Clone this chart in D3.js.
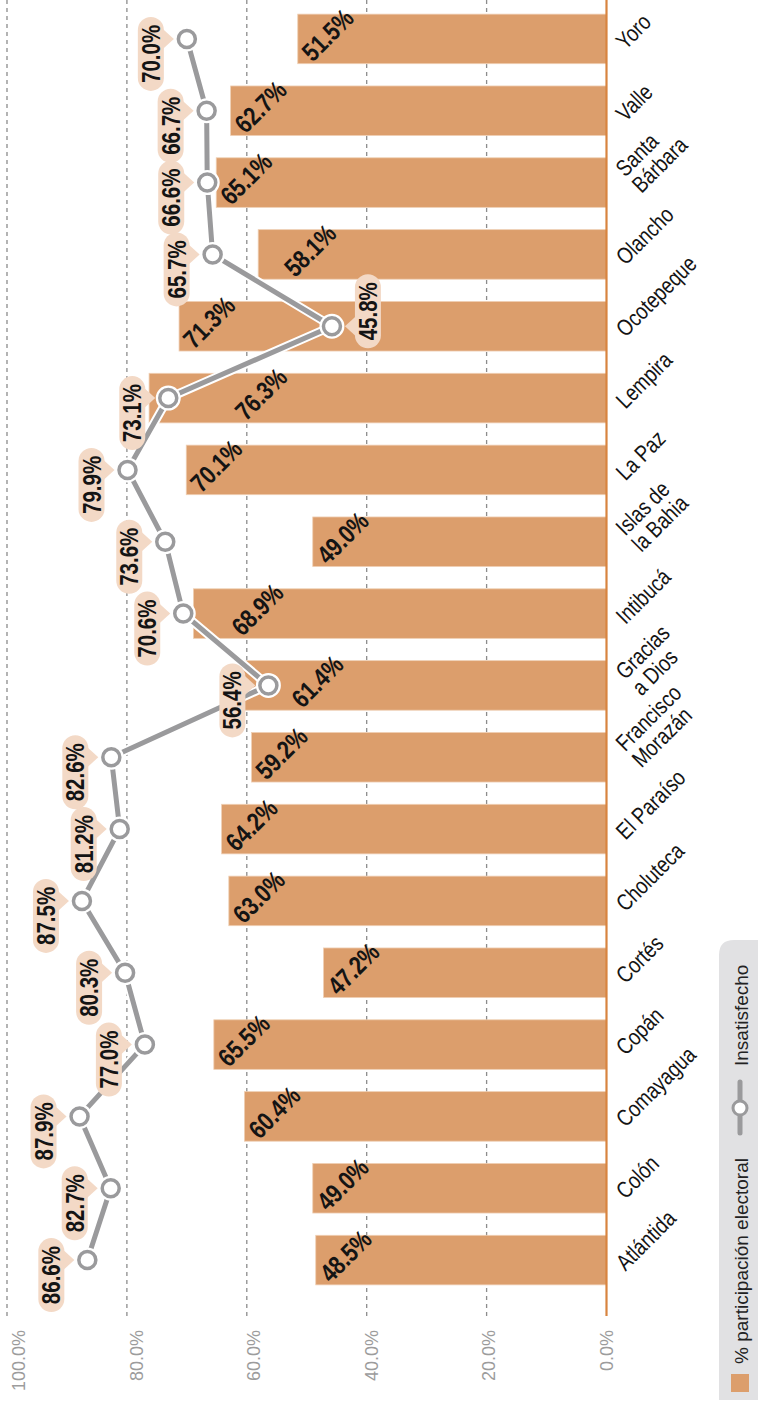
<!DOCTYPE html>
<html>
<head>
<meta charset="utf-8">
<script src="https://cdn.jsdelivr.net/npm/d3@7"></script>
<style>
  html, body { margin: 0; padding: 0; background: #fff; }
  svg { display: block; }
</style>
</head>
<body>
<svg id="chart" width="758" height="1408"></svg>
<script>
// Departamentos de Honduras
const categories = [
  "Atlántida", "Colón", "Comayagua", "Copán", "Cortés", "Choluteca",
  "El Paraíso", "Francisco Morazán", "Gracias a Dios", "Intibucá",
  "Islas de la Bahia", "La Paz", "Lempira", "Ocotepeque", "Olancho",
  "Santa Bárbara", "Valle", "Yoro"
];
// % participación electoral (barras)
const participacion = [
  48.5, 49.0, 60.4, 65.5, 47.2, 63.0, 64.2, 59.2, 61.4,
  68.9, 49.0, 70.1, 76.3, 71.3, 58.1, 65.1, 62.7, 51.5
];
// % insatisfecho (línea)
const insatisfecho = [
  86.6, 82.7, 87.9, 77.0, 80.3, 87.5, 81.2, 82.6, 56.4,
  70.6, 73.6, 79.9, 73.1, 45.8, 65.7, 66.6, 66.7, 70.0
];
const tickValues = [0, 20, 40, 60, 80, 100];
const tickLabels = ["0.0%", "20.0%", "40.0%", "60.0%", "80.0%", "100.0%"];
const legendLabels = ["% participación electoral", "Insatisfecho"];

const FONT = "'Liberation Sans', Arial, Helvetica, sans-serif";
const COND = "scale(0.82,1)";   // condensed look
const C = {
  bar: "#DC9E6C",
  base: "#D8843F",
  pill: "#F3D9C6",
  line: "#9A9A9C",
  grid: "#8C8C8C",
  tick: "#9C9C9C",
  legendBg: "#E1E1E3",
  text: "#141414"
};
const fmt = v => v.toFixed(1) + "%";

const svg = d3.select("#chart");

// value axis runs right-to-left, categories top (Yoro) to bottom (Atlántida)
const x = d3.scaleLinear().domain([0, 100]).range([606.5, 7]);
const tickX = d3.scaleLinear().domain([0, 100]).range([613, 25]);
const y = d3.scaleBand()
  .domain(categories.slice().reverse())
  .range([3, 1296])
  .paddingInner(0.31)
  .paddingOuter(0.155);
const bw = y.bandwidth();
const yc = c => y(c) + bw / 2;

const rows = categories.map((c, i) => ({ c, p: participacion[i], q: insatisfecho[i] }));

// gridlines
const gridG = svg.append("g");
gridG.selectAll("line")
  .data(tickValues.filter(v => v !== 0))
  .join("line")
  .attr("x1", d => x(d)).attr("x2", d => x(d))
  .attr("y1", 0).attr("y2", 1316)
  .attr("stroke", C.grid)
  .attr("stroke-width", 1.3)
  .attr("stroke-dasharray", "4,4");

// tick labels
svg.append("g").selectAll("text")
  .data(tickValues)
  .join("text")
  .attr("transform", d => `translate(${tickX(d)},1330) rotate(-90)`)
  .attr("text-anchor", "end")
  .attr("font-family", FONT)
  .attr("font-size", 18)
  .attr("fill", C.tick)
  .text((d, i) => tickLabels[i]);

// bars
svg.append("g").selectAll("rect")
  .data(rows)
  .join("rect")
  .attr("x", d => x(d.p))
  .attr("y", d => y(d.c))
  .attr("width", d => x(0) - x(d.p))
  .attr("height", bw)
  .attr("fill", C.bar)
  .attr("stroke", "#EFCFB4")
  .attr("stroke-width", 0.8);

// baseline
svg.append("line")
  .attr("x1", x(0)).attr("x2", x(0))
  .attr("y1", 0).attr("y2", 1316)
  .attr("stroke", C.base)
  .attr("stroke-width", 2.2);

// bar value labels; a few are pushed inward to clear the line
const labelNudge = { "Olancho": 22, "Lempira": 82, "Intibucá": 34, "Gracias a Dios": 49 };
svg.append("g").selectAll("text")
  .data(rows)
  .join("text")
  .attr("transform", d => `translate(${x(d.p) + 15 + (labelNudge[d.c] || 0)},${y(d.c) + bw - 1}) rotate(-45) ${COND}`)
  .attr("font-family", FONT)
  .attr("font-weight", "bold")
  .attr("font-size", 26)
  .attr("fill", C.text)
  .text(d => fmt(d.p));

// category labels, wrapped on the most balanced word break
function wrap(name) {
  const w = name.split(" ");
  if (name.length <= 10 || w.length < 2) return [name];
  let best = null;
  for (let k = 1; k < w.length; k++) {
    const a = w.slice(0, k).join(" "), b = w.slice(k).join(" ");
    const m = Math.max(a.length, b.length);
    if (!best || m < best.m) best = { m, lines: [a, b] };
  }
  return best.lines;
}
const catG = svg.append("g").selectAll("g")
  .data(rows)
  .join("g")
  .attr("transform", d => `translate(616,${yc(d.c)}) rotate(-45)`);
catG.each(function (d) {
  const lines = wrap(d.c);
  const n = lines.length;
  d3.select(this).selectAll("text")
    .data(lines)
    .join("text")
    .attr("transform", (t, i) => {
      const a = n > 1 ? 10 : -1.5;
      const dd = n > 1 ? 3 + i * 23 : 15;
      return `translate(${a},${dd}) ${COND}`;
    })
    .attr("font-family", FONT)
    .attr("font-size", 23)
    .attr("fill", C.text)
    .text(t => t);
});

// insatisfecho line
const line = d3.line().x(d => x(d.q)).y(d => yc(d.c));
svg.append("path").datum(rows)
  .attr("d", line).attr("fill", "none")
  .attr("stroke", "#fff").attr("stroke-width", 9)
  .attr("stroke-linejoin", "round");
svg.append("path").datum(rows)
  .attr("d", line).attr("fill", "none")
  .attr("stroke", C.line).attr("stroke-width", 5)
  .attr("stroke-linejoin", "round");

const ptG = svg.append("g");
ptG.selectAll("circle.halo")
  .data(rows).join("circle").attr("class", "halo")
  .attr("cx", d => x(d.q)).attr("cy", d => yc(d.c))
  .attr("r", 8.5).attr("fill", "#fff")
  .attr("stroke", "#fff").attr("stroke-width", 8);
ptG.selectAll("circle.pt")
  .data(rows).join("circle").attr("class", "pt")
  .attr("cx", d => x(d.q)).attr("cy", d => yc(d.c))
  .attr("r", 8.5).attr("fill", "#fff")
  .attr("stroke", C.line).attr("stroke-width", 3.5);

// callout pills for the line values
const rightSide = new Set(["Ocotepeque"]);
const PW = 26, PH = 74;
const pillG = svg.append("g").selectAll("g")
  .data(rows)
  .join("g")
  .attr("transform", d => `translate(${x(d.q)},${yc(d.c)})` + (rightSide.has(d.c) ? " rotate(180)" : ""));
pillG.append("rect")
  .attr("x", -36 - PW / 2).attr("y", 15 - PH / 2)
  .attr("width", PW).attr("height", PH)
  .attr("rx", PW / 2).attr("ry", PW / 2)
  .attr("fill", C.pill);
pillG.append("path")
  .attr("d", `M${-36 + PW / 2 - 1},-10 L${-13},0 L${-36 + PW / 2 - 1},10 Z`)
  .attr("fill", C.pill);
pillG.append("text")
  .attr("transform", d => `translate(-36,15) rotate(${rightSide.has(d.c) ? 90 : -90}) ${COND}`)
  .attr("text-anchor", "middle")
  .attr("dy", "0.36em")
  .attr("font-family", FONT)
  .attr("font-weight", "bold")
  .attr("font-size", 25)
  .attr("fill", C.text)
  .text(d => fmt(d.q));

// legend
const lg = svg.append("g");
lg.append("path")
  .attr("d", "M719,1400 L719,955 Q719,940 734,940 L770,940 L770,1400 Z")
  .attr("fill", C.legendBg);
lg.append("rect")
  .attr("x", 731).attr("y", 1374).attr("width", 18).attr("height", 18)
  .attr("fill", C.bar);
lg.append("text")
  .attr("transform", "translate(748,1364) rotate(-90)")
  .attr("font-family", FONT).attr("font-size", 19).attr("fill", "#222")
  .text(legendLabels[0]);
lg.append("line")
  .attr("x1", 740).attr("x2", 740).attr("y1", 1082).attr("y2", 1133)
  .attr("stroke", C.line).attr("stroke-width", 5).attr("stroke-linecap", "round");
lg.append("circle")
  .attr("cx", 740).attr("cy", 1108).attr("r", 7)
  .attr("fill", "#fff").attr("stroke", C.line).attr("stroke-width", 3);
lg.append("text")
  .attr("transform", "translate(748,1066) rotate(-90)")
  .attr("font-family", FONT).attr("font-size", 19).attr("fill", "#222")
  .text(legendLabels[1]);
</script>
</body>
</html>
